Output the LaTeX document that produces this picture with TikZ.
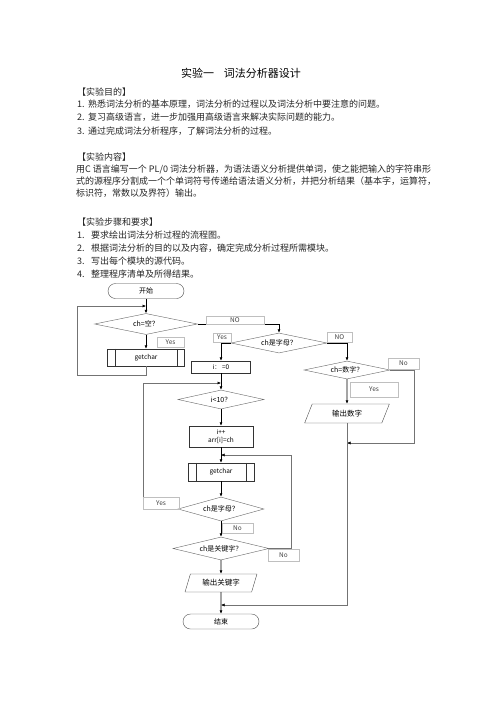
\documentclass[tikz,border=0pt]{standalone}
\usepackage{fontspec}
\setmainfont{Noto Sans CJK SC}
\usetikzlibrary{shapes.geometric,arrows.meta}

\begin{document}
\begin{tikzpicture}[x=1pt,y=-1pt]
    \tikzstyle{body}=[anchor=west,inner sep=0pt,font=\fontsize{9pt}{10pt}\selectfont,text=black!85]
    \tikzstyle{term}=[rectangle,rounded corners=7.5pt,draw=black!70,minimum width=76pt,minimum height=15pt,inner sep=0pt,font=\fontsize{7pt}{8pt}\selectfont]
    \tikzstyle{decide}=[diamond,aspect=4,draw=black!60,inner sep=0pt,font=\fontsize{7pt}{8pt}\selectfont]
    \tikzstyle{proc}=[rectangle,draw=black!80,inner sep=0pt,align=center,font=\fontsize{6.5pt}{7.5pt}\selectfont]
    \tikzstyle{io}=[trapezium,trapezium left angle=65,trapezium right angle=115,trapezium stretches=true,draw=black!70,inner sep=0pt,font=\fontsize{7.5pt}{8pt}\selectfont]
    \tikzstyle{tag}=[rectangle,draw=black!25,inner sep=0pt,font=\fontsize{6.5pt}{7pt}\selectfont,text=black!75]
    \tikzstyle{flow}=[draw=black,line width=0.6pt,-{Latex[length=3.5pt,width=3pt]}]
    \tikzstyle{back}=[draw=black!55,line width=0.5pt,-{Latex[length=3.5pt,width=3pt,black]}]
    \useasboundingbox[fill=white] (0,0) rectangle (496,702);

    % text part
    \node[inner sep=0pt,font=\fontsize{11pt}{12pt}\selectfont] (title) at (241,73) {实验一\hspace{0.9em}词法分析器设计};
    \node[body] (aim) at (77,92) {【实验目的】};
    \foreach \n/\y/\txt in {1/104/{熟悉词法分析的基本原理，词法分析的过程以及词法分析中要注意的问题。},
                            2/117/{复习高级语言，进一步加强用高级语言来解决实际问题的能力。},
                            3/131/{通过完成词法分析程序，了解词法分析的过程。}}
    {
        \node[body] (aimno-\n) at (77,\y) {\n.};
        \node[body] (aim-\n) at (88,\y) {\txt};
    }
    \node[body] (content) at (77,157) {【实验内容】};
    \node[body] (content-1) at (76,169) {用C 语言编写一个 PL/0 词法分析器，为语法语义分析提供单词，使之能把输入的字符串形};
    \node[body] (content-2) at (76,181) {式的源程序分割成一个个单词符号传递给语法语义分析，并把分析结果（基本字，运算符，};
    \node[body] (content-3) at (76,193) {标识符，常数以及界符）输出。};
    \node[body] (steps) at (77,222) {【实验步骤和要求】};
    \foreach \n/\y/\txt in {1/235/{要求绘出词法分析过程的流程图。},
                            2/248/{根据词法分析的目的以及内容，确定完成分析过程所需模块。},
                            3/261/{写出每个模块的源代码。},
                            4/274/{整理程序清单及所得结果。}}
    {
        \node[body] (stepno-\n) at (77,\y) {\n.};
        \node[body] (step-\n) at (91,\y) {\txt};
    }

    % flow chart
    \node[term] (start) at (146,291) {开始};
    \node[decide,minimum width=103pt,minimum height=21pt] (d1) at (146,324) {ch=空？};
    \node[proc,minimum width=77pt,minimum height=17pt] (g1) at (146,357.5) {getchar};
    \node[decide,minimum width=96pt,minimum height=20pt] (d2) at (279,343) {ch是字母？};
    \node[proc,minimum width=59pt,minimum height=12pt] (init) at (221,367) {i：\,=0};
    \node[decide,minimum width=86pt,minimum height=19pt] (d3) at (221,399.5) {i<10？};
    \node[proc,minimum width=64pt,minimum height=21pt] (inc) at (221,436.5) {i++\\arr[i]=ch};
    \node[proc,minimum width=66pt,minimum height=18pt] (g2) at (221,472) {getchar};
    \node[decide,minimum width=86pt,minimum height=24pt] (d4) at (221,509) {ch是字母？};
    \node[decide,minimum width=96pt,minimum height=23pt] (d5) at (221,548.5) {ch是关键字？};
    \node[io,minimum width=72pt,minimum height=18pt] (outk) at (221,583) {输出关键字};
    \node[term] (end) at (221,621.5) {结束};
    \node[decide,minimum width=86pt,minimum height=18pt] (d6) at (347,370) {ch=数字？};
    \node[io,minimum width=85pt,minimum height=19pt] (outn) at (347,413.5) {输出数字};

    \foreach \g in {g1,g2}
    {
        \draw[black!80] ([xshift=8pt]\g.north west) -- ([xshift=8pt]\g.south west);
        \draw[black!80] ([xshift=-8pt]\g.north east) -- ([xshift=-8pt]\g.south east);
    }

    \coordinate (j1) at (146,306);
    \coordinate (j2) at (221,383);
    \coordinate (j3) at (221,455);
    \coordinate (j4) at (347,443);
    \coordinate (j5) at (221,605);

    \foreach \from/\to in {start/d1, d1/g1, init/d3, d3/inc, inc/g2, g2/d4, d4/d5, d5/outk, outk/end, d6/outn}
        \draw[flow] (\from) -- (\to);
    \draw[flow] (d1.east) -| (d2.north);
    \draw[flow] (d2.west) -| (init.north);
    \draw[flow] (d2.east) -| (d6.north);

    \draw[back] (g1.south) -- ++(0,9) -| ([xshift=-69pt]j1) -- (j1);
    \draw[back] (d4.west) -| ([xshift=-78pt]j2) -- (j2);
    \draw[back] (d5.east) -| ([xshift=70pt]j3) -- (j3);
    \draw[back] (d6.east) -| ([xshift=67pt]j4) -- (j4);
    \draw[back] (outn.south) |- (j5);

    % yes / no boxes
    \foreach \name/\x/\y/\w/\h/\t in {no1/235/320/58/8/NO, yes1/170.5/342/27/10/Yes,
                                      yes2/222/337.5/18/9/Yes, no2/339.5/337/25/10/NO,
                                      yes3/161/503/36/12/Yes, no3/237.5/528/31/10/No,
                                      no4/283.5/555/31/12/No, yes4/374/389.5/48/15/Yes,
                                      no5/403.5/363.5/31/11/No}
        \node[tag,minimum width=\w pt,minimum height=\h pt] (\name) at (\x,\y) {\t};
\end{tikzpicture}
\end{document}
